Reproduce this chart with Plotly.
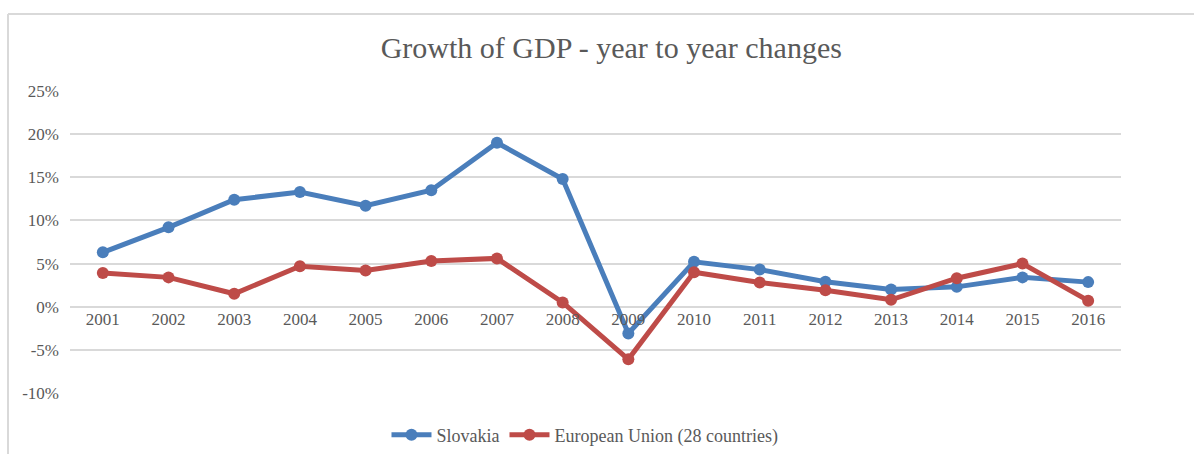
import plotly.graph_objects as go

years = ["2001", "2002", "2003", "2004", "2005", "2006", "2007", "2008",
         "2009", "2010", "2011", "2012", "2013", "2014", "2015", "2016"]
slovakia = [6.3, 9.2, 12.4, 13.3, 11.7, 13.5, 19.0, 14.8,
            -3.1, 5.2, 4.3, 2.9, 2.0, 2.3, 3.4, 2.85]
eu28 = [3.9, 3.4, 1.5, 4.7, 4.2, 5.3, 5.6, 0.5,
        -6.1, 4.0, 2.8, 1.9, 0.8, 3.3, 5.0, 0.7]
y_ticks = [-10, -5, 0, 5, 10, 15, 20, 25]
y_labels = ["-10%", "-5%", "0%", "5%", "10%", "15%", "20%", "25%"]

FONT = "Liberation Serif, Times New Roman, serif"
GREY = "#595959"
BLUE = "#4A7EBB"
RED = "#BE4B48"

fig = go.Figure()
fig.add_trace(go.Scatter(
    x=years, y=slovakia, name="Slovakia", mode="lines+markers",
    line=dict(color=BLUE, width=5), marker=dict(color=BLUE, size=12),
))
fig.add_trace(go.Scatter(
    x=years, y=eu28, name="European Union (28 countries)", mode="lines+markers",
    line=dict(color=RED, width=5), marker=dict(color=RED, size=12),
))

ymin, ymax = -10, 25
L, R, T, B = 70, 73, 91, 61
PW, PH = 1194 - L - R, 454 - T - B
fig.update_layout(
    width=1194, height=454,
    margin=dict(l=L, r=R, t=T, b=B, autoexpand=False),
    paper_bgcolor="white", plot_bgcolor="white",
    font=dict(family=FONT, color=GREY, size=17),
    title=dict(text="Growth of GDP - year to year changes",
               x=0.512, xanchor="center", y=1 - 47 / 454, yanchor="middle",
               font=dict(family=FONT, size=30, color=GREY)),
    showlegend=True,
    legend=dict(orientation="h", x=0.49, xanchor="center",
                y=(393 - 435) / PH, yanchor="middle",
                font=dict(family=FONT, size=18, color=GREY),
                itemwidth=40, tracegroupgap=0),
    xaxis=dict(type="category", range=[-0.5, 15.5], showgrid=False,
               showline=False, ticks="", zeroline=False,
               anchor="free", position=(0 - ymin) / (ymax - ymin),
               tickfont=dict(family=FONT, size=17, color=GREY)),
    yaxis=dict(range=[ymin, ymax], tickvals=y_ticks, ticktext=y_labels,
               showgrid=True, gridcolor="#D9D9D9", gridwidth=1.5,
               zeroline=False, showline=False, ticks="",
               ticklabelstandoff=10,
               tickfont=dict(family=FONT, size=17, color=GREY)),
    shapes=[
        dict(type="line", xref="paper", yref="paper",
             x0=(8 - L) / PW, x1=1.2, y0=(393 - 14) / PH, y1=(393 - 14) / PH,
             line=dict(color="#D9D9D9", width=2), layer="below"),
        dict(type="line", xref="paper", yref="paper",
             x0=(8 - L) / PW, x1=(8 - L) / PW, y0=(393 - 14) / PH, y1=-0.5,
             line=dict(color="#D9D9D9", width=2), layer="below"),
    ],
)

fig.write_html("out.html",
               config={"displayModeBar": False},
               post_script="document.body.style.margin='0';document.body.style.overflow='hidden';")
